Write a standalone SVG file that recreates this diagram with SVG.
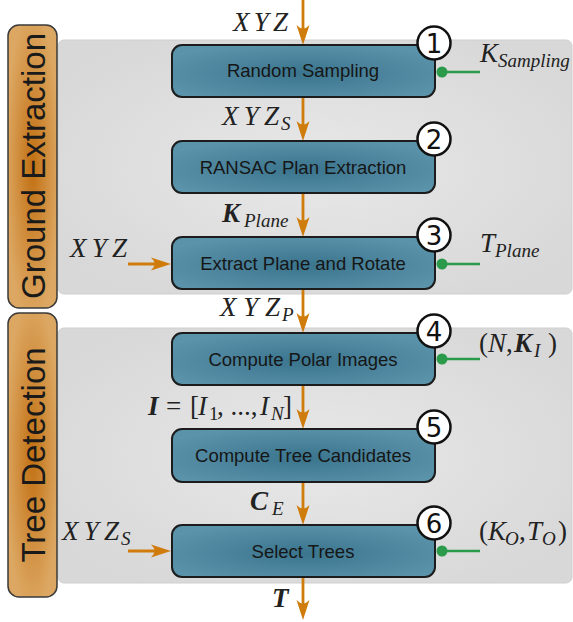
<svg xmlns="http://www.w3.org/2000/svg" width="573" height="622" viewBox="0 0 573 622">
<defs>
<radialGradient id="gPanel" cx="0.5" cy="0.5" r="0.6">
<stop offset="0" stop-color="#e8e8e8"/>
<stop offset="1" stop-color="#d8d8d8"/>
</radialGradient>
<radialGradient id="gSide" cx="0.5" cy="0.5" r="0.55">
<stop offset="0" stop-color="#c27012"/>
<stop offset="1" stop-color="#dca762"/>
</radialGradient>
<radialGradient id="gBox" cx="0.5" cy="0.55" r="0.6">
<stop offset="0" stop-color="#3a748d"/>
<stop offset="1" stop-color="#5b93aa"/>
</radialGradient>
<marker id="ah" viewBox="-14 -8 22 16" markerWidth="22" markerHeight="16" refX="0" refY="0" orient="auto" markerUnits="userSpaceOnUse">
<path d="M 8 0 L -12 -6.5 Q -5 0 -12 6.5 Z" fill="#d07c0c"/>
</marker>
<style>
.panel{fill:url(#gPanel);stroke:#cfcfcf;stroke-width:1}
.side{fill:url(#gSide);stroke:#3a3a3a;stroke-width:1.5}
.sideT{font-family:"Liberation Sans",Arial,sans-serif;font-size:33px;fill:#1a1a1a;text-anchor:middle}
.box{fill:url(#gBox);stroke:#1c1c1c;stroke-width:2}
.bt{font-family:"Liberation Sans",Arial,sans-serif;font-size:18.5px;fill:#161616;text-anchor:middle}
.num{fill:#fff;stroke:#111;stroke-width:2.5}
.nt{font-family:"DejaVu Sans",sans-serif;font-size:26px;fill:#111;text-anchor:middle}
.flow{stroke:#d07c0c;stroke-width:2.8;fill:none;marker-end:url(#ah)}
.par{stroke:#2b9a4a;stroke-width:2.5;fill:none}
.dot{fill:#2b9a4a}
.m{font-family:"Liberation Serif",serif;font-style:italic;font-size:27px;fill:#222}
.s{font-size:19px}
.b{font-weight:bold}
.u{font-style:normal}
</style>
</defs>

<g id="panels">
<rect class="panel" x="58" y="40" width="514" height="254" rx="6"/>
<rect class="panel" x="58" y="328" width="514" height="255" rx="6"/>
</g>

<g id="ground-extraction">
<rect class="side" x="8" y="25" width="49" height="283" rx="11"/>
<text class="sideT" transform="translate(44.5 166) rotate(-90)">Ground Extraction</text>
</g>
<g id="tree-detection">
<rect class="side" x="8" y="313" width="49" height="284" rx="11"/>
<text class="sideT" transform="translate(44.5 455) rotate(-90)">Tree Detection</text>
</g>

<g id="connectors">
<line class="flow" x1="303" y1="0" x2="303" y2="37"/>
<line class="flow" x1="303" y1="97" x2="303" y2="133"/>
<line class="flow" x1="303" y1="193" x2="303" y2="229"/>
<line class="flow" x1="303" y1="289" x2="303" y2="325"/>
<line class="flow" x1="303" y1="385" x2="303" y2="421"/>
<line class="flow" x1="303" y1="482" x2="303" y2="517"/>
<line class="flow" x1="303" y1="577" x2="303" y2="612"/>
<line class="flow" x1="128" y1="264" x2="163" y2="264"/>
<line class="flow" x1="128" y1="551" x2="163" y2="551"/>
<line class="par" x1="442" y1="72" x2="480" y2="72"/>
<line class="par" x1="442" y1="264" x2="480" y2="264"/>
<line class="par" x1="442" y1="359" x2="480" y2="359"/>
<line class="par" x1="442" y1="551" x2="480" y2="551"/>
<circle class="dot" cx="442" cy="72" r="5.5"/>
<circle class="dot" cx="442" cy="264" r="5.5"/>
<circle class="dot" cx="442" cy="359" r="5.5"/>
<circle class="dot" cx="442" cy="551" r="5.5"/>
</g>

<g id="node1">
<rect class="box" x="172" y="45" width="263" height="52" rx="10"/>
<text class="bt" x="303" y="77">Random Sampling</text>
<circle class="num" cx="434" cy="43" r="16.5"/>
<text class="nt" x="434" y="52.5">1</text>
</g>
<g id="node2">
<rect class="box" x="172" y="141" width="263" height="52" rx="10"/>
<text class="bt" x="303" y="173.5">RANSAC Plan Extraction</text>
<circle class="num" cx="434" cy="139" r="16.5"/>
<text class="nt" x="434" y="148.5">2</text>
</g>
<g id="node3">
<rect class="box" x="172" y="237" width="263" height="52" rx="10"/>
<text class="bt" x="303" y="269.5">Extract Plane and Rotate</text>
<circle class="num" cx="434" cy="235" r="16.5"/>
<text class="nt" x="434" y="244.5">3</text>
</g>
<g id="node4">
<rect class="box" x="172" y="333" width="263" height="52" rx="10"/>
<text class="bt" x="303" y="365.5">Compute Polar Images</text>
<circle class="num" cx="434" cy="331" r="16.5"/>
<text class="nt" x="434" y="340.5">4</text>
</g>
<g id="node5">
<rect class="box" x="172" y="429" width="263" height="53" rx="10"/>
<text class="bt" x="303" y="461.5">Compute Tree Candidates</text>
<circle class="num" cx="434" cy="427" r="16.5"/>
<text class="nt" x="434" y="436.5">5</text>
</g>
<g id="node6">
<rect class="box" x="172" y="525" width="263" height="52" rx="10"/>
<text class="bt" x="303" y="557.5">Select Trees</text>
<circle class="num" cx="434" cy="523" r="16.5"/>
<text class="nt" x="434" y="532.5">6</text>
</g>

<g id="labels">
<text class="m" x="233" y="31" textLength="55" lengthAdjust="spacing">XYZ</text>
<text class="m" y="125"><tspan x="222" textLength="57" lengthAdjust="spacing">XYZ</tspan><tspan class="s" x="281" y="130">S</tspan></text>
<text class="m" y="222"><tspan class="b" x="222">K</tspan><tspan class="s" x="244" y="227">Plane</tspan></text>
<text class="m" x="70" y="257" textLength="57" lengthAdjust="spacing">XYZ</text>
<text class="m" y="316"><tspan x="220" textLength="60" lengthAdjust="spacing">XYZ</tspan><tspan class="s" x="282" y="321">P</tspan></text>
<text class="m" y="415"><tspan class="b" x="148">I</tspan><tspan class="u" x="166">=</tspan><tspan class="u" x="190">[</tspan><tspan x="198">I</tspan><tspan class="s u" x="209" y="420">1</tspan><tspan class="u" x="217" y="415">, ...,</tspan><tspan x="260">I</tspan><tspan class="s" x="271" y="420">N</tspan><tspan class="u" x="283" y="415">]</tspan></text>
<text class="m" y="510"><tspan class="b" x="250">C</tspan><tspan class="s" x="272" y="515">E</tspan></text>
<text class="m" y="540"><tspan x="62" textLength="57" lengthAdjust="spacing">XYZ</tspan><tspan class="s" x="121" y="545">S</tspan></text>
<text class="m b" x="272" y="607">T</text>
<text class="m" y="62"><tspan x="480">K</tspan><tspan class="s" x="498" y="67">Sampling</tspan></text>
<text class="m" y="252"><tspan x="480">T</tspan><tspan class="s" x="495" y="257">Plane</tspan></text>
<text class="m" y="352"><tspan class="u" x="479">(</tspan><tspan x="488">N</tspan><tspan class="u" x="506">,</tspan><tspan class="b" x="514">K</tspan><tspan class="s" x="534" y="357">I</tspan><tspan class="u" x="548" y="352">)</tspan></text>
<text class="m" y="540"><tspan class="u" x="479">(</tspan><tspan x="488">K</tspan><tspan class="s" x="505" y="545">O</tspan><tspan class="u" x="519" y="540">,</tspan><tspan x="527">T</tspan><tspan class="s" x="542" y="545">O</tspan><tspan class="u" x="558" y="540">)</tspan></text>
</g>
</svg>
